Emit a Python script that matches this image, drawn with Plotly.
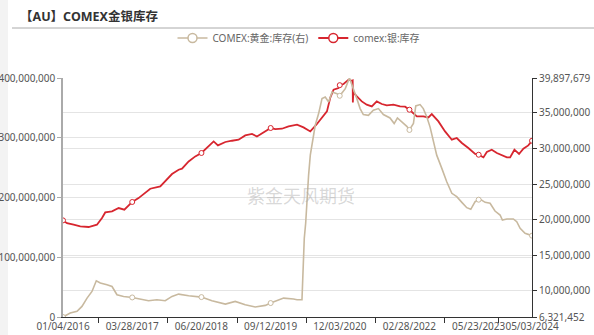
import plotly.graph_objects as go

# ---- data (values in millions of oz) ----
silver_dates = [
    "2016-01-04","2016-01-30","2016-03-13","2016-04-25","2016-06-18","2016-07-21","2016-08-11",
    "2016-09-13","2016-10-04","2016-11-17","2016-12-30","2017-02-05","2017-03-28","2017-05-08",
    "2017-06-21","2017-07-23","2017-09-26","2017-10-28","2017-12-11","2018-01-23","2018-02-14",
    "2018-03-29","2018-05-11","2018-06-20","2018-08-05","2018-09-07","2018-10-05","2018-11-22",
    "2019-01-04","2019-02-16","2019-03-31","2019-05-14","2019-06-15","2019-07-28","2019-09-12",
    "2019-10-12","2019-11-24","2020-01-06","2020-02-07","2020-03-01","2020-04-12","2020-05-26",
    "2020-07-08","2020-08-20","2020-09-11","2020-10-02","2020-10-24","2020-11-25","2020-12-03",
    "2020-12-28","2021-01-29","2021-02-19","2021-02-25","2021-02-26","2021-03-01","2021-03-24",
    "2021-04-25","2021-05-27","2021-06-29","2021-07-31","2021-09-02","2021-10-04","2021-11-16",
    "2021-12-29","2022-01-31","2022-02-28","2022-04-17","2022-05-29","2022-07-01","2022-07-23",
    "2022-09-04","2022-10-17","2022-11-30","2023-01-01","2023-02-03","2023-03-17","2023-04-30",
    "2023-05-23","2023-06-23","2023-07-15","2023-08-16","2023-09-18","2023-10-20","2023-11-22",
    "2023-12-13","2024-01-10","2024-02-09","2024-03-08","2024-04-09","2024-05-03",
]
silver_values = [
    161.7,157.0,154.5,151.6,150.6,153.0,154.5,
    165.7,175.0,176.7,182.4,179.6,192.5,199.0,
    207.5,214.7,218.6,227.0,239.3,246.5,248.2,
    260.4,268.8,274.5,285.5,293.9,287.2,292.9,
    295.0,296.7,303.9,306.3,302.2,309.0,316.3,
    314.6,315.1,319.0,320.7,321.8,317.3,310.6,
    323.0,335.7,344.1,366.5,380.4,383.3,388.0,
    389.9,397.2,395.4,396.0,359.0,376.0,369.2,
    360.8,355.3,352.5,360.8,356.5,354.1,355.3,
    352.5,352.0,346.9,335.7,335.7,334.0,339.7,
    327.4,310.6,296.7,299.6,291.2,282.8,272.8,
    271.6,267.1,276.1,280.0,274.5,270.4,267.1,
    267.1,280.0,272.8,281.7,287.2,295.0,
]

gold_dates = [
    "2016-01-04","2016-02-20","2016-04-04","2016-05-06","2016-06-08","2016-07-10","2016-08-07",
    "2016-09-02","2016-10-15","2016-11-17","2016-12-19","2017-01-31","2017-03-28","2017-05-19",
    "2017-07-12","2017-09-04","2017-10-28","2017-12-11","2018-01-23","2018-03-29","2018-06-20",
    "2018-08-27","2018-11-22","2019-01-25","2019-03-31","2019-06-04","2019-08-08","2019-09-12",
    "2019-10-01","2019-12-05","2020-02-07","2020-03-01","2020-04-02","2020-04-08","2020-04-17",
    "2020-04-26","2020-05-04","2020-05-15","2020-05-26","2020-06-12","2020-06-27","2020-07-19",
    "2020-08-10","2020-08-31","2020-09-22","2020-10-14","2020-11-15","2020-12-03","2021-01-08",
    "2021-02-04","2021-03-02","2021-03-24","2021-04-14","2021-05-05","2021-06-07","2021-07-09",
    "2021-08-11","2021-09-12","2021-10-25","2021-11-21","2021-12-12","2022-01-10","2022-02-11",
    "2022-02-28","2022-03-26","2022-04-10","2022-05-08","2022-05-29","2022-06-21","2022-07-12",
    "2022-08-02","2022-08-24","2022-09-26","2022-10-28","2022-11-30","2023-01-01","2023-02-03",
    "2023-03-07","2023-04-02","2023-04-30","2023-05-23","2023-06-01","2023-07-04","2023-08-05",
    "2023-09-06","2023-10-09","2023-10-24","2023-11-22","2024-01-03","2024-01-25","2024-02-16",
    "2024-03-19","2024-05-03",
]
gold_values = [
    6.321452,6.88,7.11,7.81,8.98,9.91,11.41,
    11.09,10.85,10.61,9.45,9.21,9.07,8.88,
    8.60,8.74,8.60,9.21,9.54,9.31,9.12,
    8.60,8.14,8.51,8.04,7.72,7.95,8.28,
    8.42,8.98,8.84,8.74,8.74,13.65,17.39,
    19.49,23.0,26.26,29.06,31.4,33.26,34.9,
    37.0,37.23,36.53,37.93,37.7,37.4,38.4,
    39.897679,38.4,37.0,35.6,34.76,34.66,35.36,
    35.6,34.76,34.28,33.5,34.28,33.73,33.1,
    32.6,33.5,35.97,36.16,35.6,34.43,33.0,
    30.9,29.06,27.2,25.32,23.7,23.22,22.43,
    21.68,21.45,22.52,22.8,22.89,22.43,22.29,
    21.21,20.65,19.95,20.09,20.09,19.71,18.79,
    18.09,17.75,
]

tick_dates = ["2016-01-04","2017-03-28","2018-06-20","2019-09-12","2020-12-03",
              "2022-02-28","2023-05-23","2024-05-03"]
tick_labels = ["01/04/2016","03/28/2017","06/20/2018","09/12/2019","12/03/2020",
               "02/28/2022","05/23/2023","05/03/2024"]
left_ticks = [0, 100e6, 200e6, 300e6, 400e6]
right_ticks = [6321452, 10e6, 15e6, 20e6, 25e6, 30e6, 35e6, 39897679]

title_text = "【AU】COMEX金银库存"
gold_name = "COMEX:黄金:库存(右)"
silver_name = "comex:银:库存"
watermark = "紫金天风期货"

# ---- style ----
RED = "#d7262f"
TAN = "#c8b99f"
FONT = "Noto Sans, Noto Sans CJK SC, sans-serif"
W, H = 594, 335
ML, MR, MT, MB = 63, 62, 78, 18
PW, PH = W - ML - MR, H - MT - MB

def px_x(p):
    return (p - ML) / PW

def px_y(p):
    return (H - MB - p) / PH

sv = [v * 1e6 for v in silver_values]
gv = [v * 1e6 for v in gold_values]

fig = go.Figure()
fig.add_trace(go.Scatter(x=gold_dates, y=gv, mode="lines", yaxis="y2",
                         line=dict(color=TAN, width=1.6), showlegend=False, hoverinfo="skip"))
fig.add_trace(go.Scatter(x=silver_dates, y=sv, mode="lines", yaxis="y",
                         line=dict(color=RED, width=1.8), showlegend=False, hoverinfo="skip"))

# hollow symbols at labelled dates
gm = [(d, v) for d, v in zip(gold_dates, gv) if d in tick_dates]
sm = [(d, v) for d, v in zip(silver_dates, sv) if d in tick_dates]
fig.add_trace(go.Scatter(x=[d for d, _ in gm], y=[v for _, v in gm], mode="markers", yaxis="y2",
                         marker=dict(size=5, color="white", line=dict(color=TAN, width=1)),
                         showlegend=False, hoverinfo="skip"))
fig.add_trace(go.Scatter(x=[d for d, _ in sm], y=[v for _, v in sm], mode="markers", yaxis="y",
                         marker=dict(size=5, color="white", line=dict(color=RED, width=1)),
                         showlegend=False, hoverinfo="skip"))

# legend entries
fig.add_trace(go.Scatter(x=[None], y=[None], mode="lines+markers", name=gold_name,
                         line=dict(color=TAN, width=1.6),
                         marker=dict(size=9, color="white", line=dict(color=TAN, width=1.5))))
fig.add_trace(go.Scatter(x=[None], y=[None], mode="lines+markers", name=silver_name,
                         line=dict(color=RED, width=1.8),
                         marker=dict(size=9, color="white", line=dict(color=RED, width=1.5))))

minor_ticks = ["2016-08-20", "2017-11-10", "2019-02-07", "2020-04-30",
               "2021-07-20", "2022-10-12", "2023-09-26"]

TICKFONT = dict(size=10, color="#555", family=FONT)

fig.update_layout(
    width=W, height=H, autosize=False,
    margin=dict(l=ML, r=MR, t=MT, b=MB, pad=0),
    paper_bgcolor="white", plot_bgcolor="white",
    font=dict(family=FONT, size=10, color="#555"),
    title=dict(text="<b>" + title_text + "</b>", xref="container", yref="container",
               x=20 / W, y=1 - 17 / H, xanchor="left", yanchor="middle",
               font=dict(size=12.5, color="#333", family=FONT)),
    legend=dict(orientation="h", x=px_x(299), y=px_y(38), xanchor="center", yanchor="middle",
                font=dict(size=10, color="#666"), bgcolor="rgba(0,0,0,0)", itemwidth=30),
    xaxis=dict(type="date", range=["2016-01-04", "2024-05-03"],
               tickmode="array", tickvals=tick_dates, ticktext=tick_labels, tickangle=0,
               ticks="", showgrid=False, zeroline=False, automargin=False,
               showline=True, linecolor="#333", linewidth=1,
               tickfont=TICKFONT,
               minor=dict(tickmode="array", tickvals=minor_ticks, ticks="outside",
                          ticklen=5, tickcolor="#333", showgrid=False)),
    yaxis=dict(range=[0, 400e6], tickmode="array", tickvals=left_ticks, tickformat=",d",
               showgrid=True, gridcolor="#e4e4e4", gridwidth=1, zeroline=False,
               showline=True, linecolor="#aaa", linewidth=1.5,
               ticks="outside", ticklen=4, tickcolor="#aaa",
               tickfont=TICKFONT, automargin=False),
    yaxis2=dict(range=[6321452, 39897679], overlaying="y", side="right",
                tickmode="array", tickvals=right_ticks, tickformat=",d",
                showgrid=True, gridcolor="#e4e4e4", gridwidth=1, zeroline=False,
                showline=True, linecolor="#333", linewidth=1,
                ticks="outside", ticklen=4, tickcolor="#333",
                tickfont=TICKFONT, automargin=False),
    shapes=[
        dict(type="rect", xref="paper", yref="paper", x0=px_x(0), x1=px_x(8),
             y0=px_y(H), y1=px_y(0), fillcolor="#f3f3f3", line=dict(width=0), layer="below"),
        dict(type="line", xref="paper", yref="paper", x0=px_x(12), x1=px_x(W),
             y0=px_y(28), y1=px_y(28), line=dict(color="#aaa", width=1)),
    ],
    annotations=[
        dict(text=watermark, xref="paper", yref="paper", x=px_x(301), y=px_y(195),
             showarrow=False, font=dict(size=18, color="rgba(170,170,170,0.45)",
                                        family="Noto Sans CJK SC")),
    ],
)

fig.write_html("out.html")
